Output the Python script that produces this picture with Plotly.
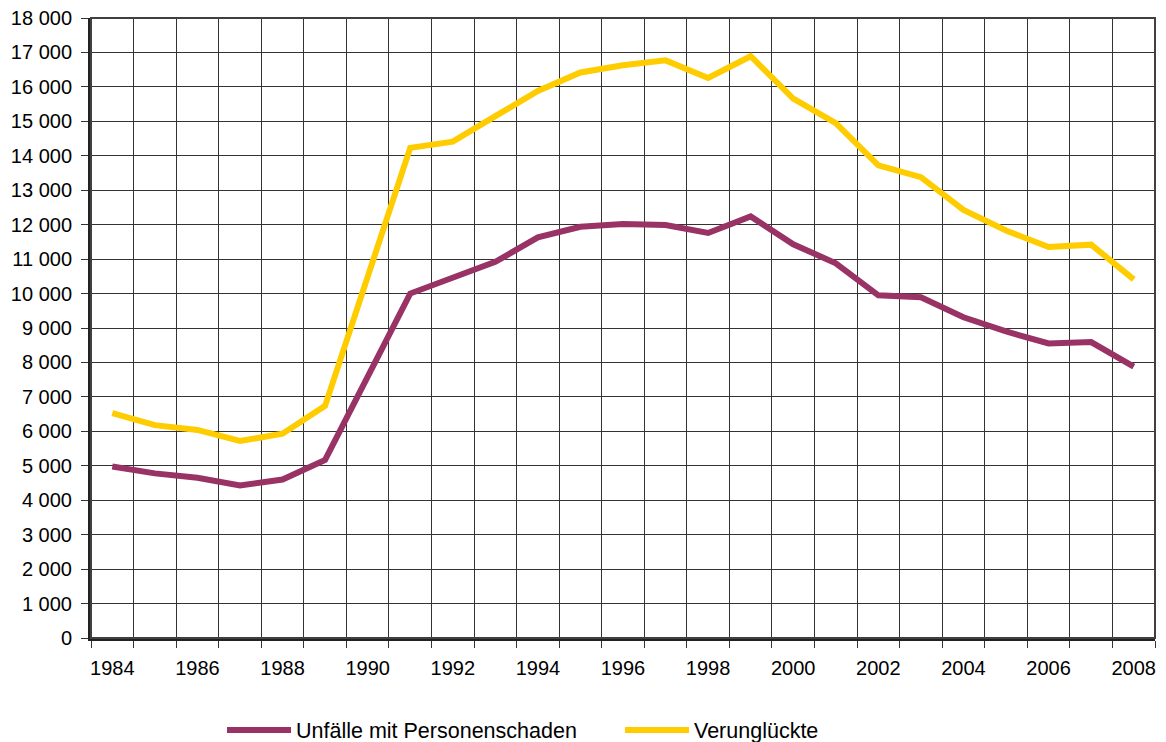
import plotly.graph_objects as go

years = list(range(1984, 2009))
unfaelle = [4980, 4780, 4650, 4430, 4600, 5170, None, 10000, 10450, 10920, 11630,
            11940, 12020, 11990, 11760, 12240, 11430, 10880, 9950, 9890, 9310,
            8900, 8550, 8590, 7880]
verunglueckte = [6530, 6180, 6040, 5720, 5930, 6740, None, 14230, 14410, 15150, 15880,
                 16420, 16630, 16770, 16260, 16890, 15660, 14950, 13720, 13380, 12430,
                 11830, 11350, 11420, 10410]
xtick_labels = [str(y) for y in range(1984, 2009, 2)]

FONT = "Liberation Sans, Arial, sans-serif"

fig = go.Figure()
fig.add_trace(go.Scatter(x=years, y=unfaelle, mode="lines", name="Unfälle mit Personenschaden",
                         line=dict(color="#993366", width=6), connectgaps=True))
fig.add_trace(go.Scatter(x=years, y=verunglueckte, mode="lines", name="Verunglückte",
                         line=dict(color="#FFCC00", width=6), connectgaps=True))

fig.update_layout(
    width=1166, height=742,
    margin=dict(l=91, r=11, t=18, b=104, pad=0, autoexpand=False),
    paper_bgcolor="white", plot_bgcolor="white",
    separators=", ",
    font=dict(family=FONT, size=20, color="black"),
    showlegend=True,
    legend=dict(orientation="h", xref="container", yref="container",
                x=222 / 1166, xanchor="left", y=1 - 730 / 742, yanchor="middle",
                font=dict(size=21.5), itemwidth=64, entrywidth=319, entrywidthmode="pixels",
                traceorder="normal", bgcolor="rgba(0,0,0,0)"),
    xaxis=dict(
        range=[1983.5, 2008.5], tickmode="array",
        tickvals=[int(t) for t in xtick_labels], ticktext=xtick_labels,
        ticks="", showgrid=False, zeroline=False, automargin=False,
        showline=True, linecolor="#222", linewidth=3,
        minor=dict(tick0=1983.5, dtick=1, ticks="outside", ticklen=7, tickcolor="#333",
                   showgrid=True, gridcolor="#333", gridwidth=1),
        ticklabelstandoff=10,
    ),
    yaxis=dict(
        range=[0, 18000], dtick=1000, tickformat=",d",
        ticks="outside", ticklen=7, tickcolor="#333", automargin=False,
        showgrid=True, gridcolor="#333", gridwidth=1, zeroline=False,
        showline=True, linecolor="#222", linewidth=3,
        ticklabelstandoff=5,
    ),
    shapes=[dict(type="rect", xref="paper", yref="paper", x0=0, x1=1, y0=0, y1=1,
                 line=dict(color="#404040", width=2), layer="above")],
)

fig.write_html("out.html", config={"displayModeBar": False},
               post_script="document.body.style.margin='0';document.body.style.overflow='hidden';")
